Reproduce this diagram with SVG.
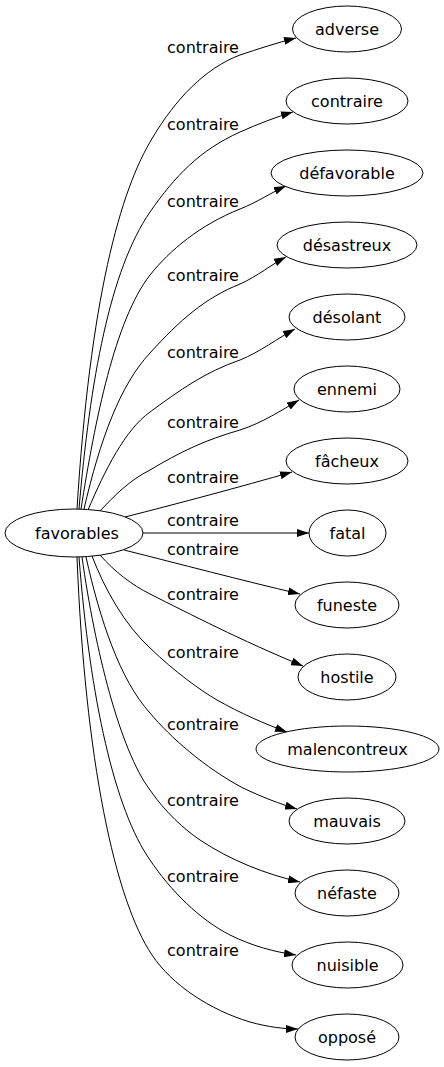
<svg xmlns="http://www.w3.org/2000/svg" width="444" height="1067" viewBox="0 0 444 1067">
<style>
.n ellipse{fill:#fff;stroke:#000;stroke-width:1}
.n text,.lbl text{font-family:"DejaVu Sans",sans-serif;font-size:16px;fill:#000;text-anchor:middle}
.e path{fill:none;stroke:#000;stroke-width:1;marker-end:url(#arr)}
</style>
<defs>
<marker id="arr" markerWidth="12" markerHeight="8" refX="12" refY="4" orient="auto" markerUnits="userSpaceOnUse"><path d="M0,0 L12,4 L0,8 z" fill="#000"/></marker>
</defs>
<rect width="444" height="1067" fill="#fff"/>
<g id="edges" class="e">
<path d="M77,509 C90,300 120,190 153,137 C175,100 205,68 240,55 C258,49 276,43 296,38"/>
<path d="M79,509 C90,380 110,270 150,212 C175,176 200,150 240,132 C258,124 276,117 293,112"/>
<path d="M81,509 C95,420 115,320 150,275 C170,250 200,225 240,209 C258,202 272,192 286,186"/>
<path d="M84,509 C100,440 120,385 150,353 C180,320 205,298 240,284 C258,276 272,264 286,257"/>
<path d="M88,510 C105,470 125,430 150,412 C180,390 205,372 240,360 C260,352 278,338 295,329"/>
<path d="M100,511 C115,495 130,480 150,470 C180,452 205,440 240,430 C262,423 282,410 299,400"/>
<path d="M125,517 C180,503 240,487 292,472"/>
<path d="M143,533 L309,533"/>
<path d="M124,550 C180,564 240,580 300,594"/>
<path d="M100,555 C115,572 132,585 150,594 C190,614 240,640 303,666"/>
<path d="M92,556 C105,590 125,625 150,648 C175,672 200,690 217,700 C240,713 265,724 287,732"/>
<path d="M86,557 C100,620 120,680 150,713 C170,737 205,768 243,788 C262,797 280,804 297,809"/>
<path d="M82,557 C95,650 120,750 150,790 C165,812 185,830 200,840 C230,860 265,874 300,882"/>
<path d="M79,557 C90,700 115,810 150,860 C170,890 200,920 230,935 C252,946 275,952 296,955"/>
<path d="M77,557 C85,760 115,900 152,955 C172,985 210,1010 250,1022 C268,1027 284,1029 298,1029"/>
</g>
<g id="labels" class="lbl">
<text x="203" y="53">contraire</text>
<text x="203" y="130">contraire</text>
<text x="203" y="207">contraire</text>
<text x="203" y="281">contraire</text>
<text x="203" y="358">contraire</text>
<text x="203" y="428">contraire</text>
<text x="203" y="483">contraire</text>
<text x="203" y="526">contraire</text>
<text x="203" y="555">contraire</text>
<text x="203" y="600">contraire</text>
<text x="203" y="658">contraire</text>
<text x="203" y="730">contraire</text>
<text x="203" y="806">contraire</text>
<text x="203" y="882">contraire</text>
<text x="203" y="956">contraire</text>
</g>
<g id="favorables" class="n"><ellipse cx="74" cy="533" rx="69" ry="24"/><text x="77" y="539">favorables</text></g>
<g id="adverse" class="n"><ellipse cx="347" cy="29" rx="54.5" ry="23"/><text x="347" y="35">adverse</text></g>
<g id="contraire" class="n"><ellipse cx="347" cy="101" rx="61" ry="23"/><text x="347" y="107">contraire</text></g>
<g id="defavorable" class="n"><ellipse cx="347" cy="173" rx="76" ry="23"/><text x="347" y="179">défavorable</text></g>
<g id="desastreux" class="n"><ellipse cx="347" cy="245" rx="70" ry="23"/><text x="347" y="251">désastreux</text></g>
<g id="desolant" class="n"><ellipse cx="347" cy="317" rx="58" ry="23"/><text x="347" y="323">désolant</text></g>
<g id="ennemi" class="n"><ellipse cx="347" cy="389" rx="53" ry="23"/><text x="347" y="395">ennemi</text></g>
<g id="facheux" class="n"><ellipse cx="347" cy="461" rx="61" ry="23"/><text x="347" y="467">fâcheux</text></g>
<g id="fatal" class="n"><ellipse cx="347.5" cy="533" rx="38.5" ry="23"/><text x="347.5" y="539">fatal</text></g>
<g id="funeste" class="n"><ellipse cx="347" cy="605" rx="52" ry="23"/><text x="347" y="611">funeste</text></g>
<g id="hostile" class="n"><ellipse cx="347" cy="677" rx="49" ry="23"/><text x="347" y="683">hostile</text></g>
<g id="malencontreux" class="n"><ellipse cx="347.5" cy="749" rx="91.5" ry="23"/><text x="347.5" y="755">malencontreux</text></g>
<g id="mauvais" class="n"><ellipse cx="347" cy="821" rx="58" ry="23"/><text x="347" y="827">mauvais</text></g>
<g id="nefaste" class="n"><ellipse cx="347" cy="893" rx="52" ry="23"/><text x="347" y="899">néfaste</text></g>
<g id="nuisible" class="n"><ellipse cx="347.5" cy="965" rx="55.5" ry="23"/><text x="347.5" y="971">nuisible</text></g>
<g id="oppose" class="n"><ellipse cx="347" cy="1037" rx="52" ry="23"/><text x="347" y="1043">opposé</text></g>
</svg>
